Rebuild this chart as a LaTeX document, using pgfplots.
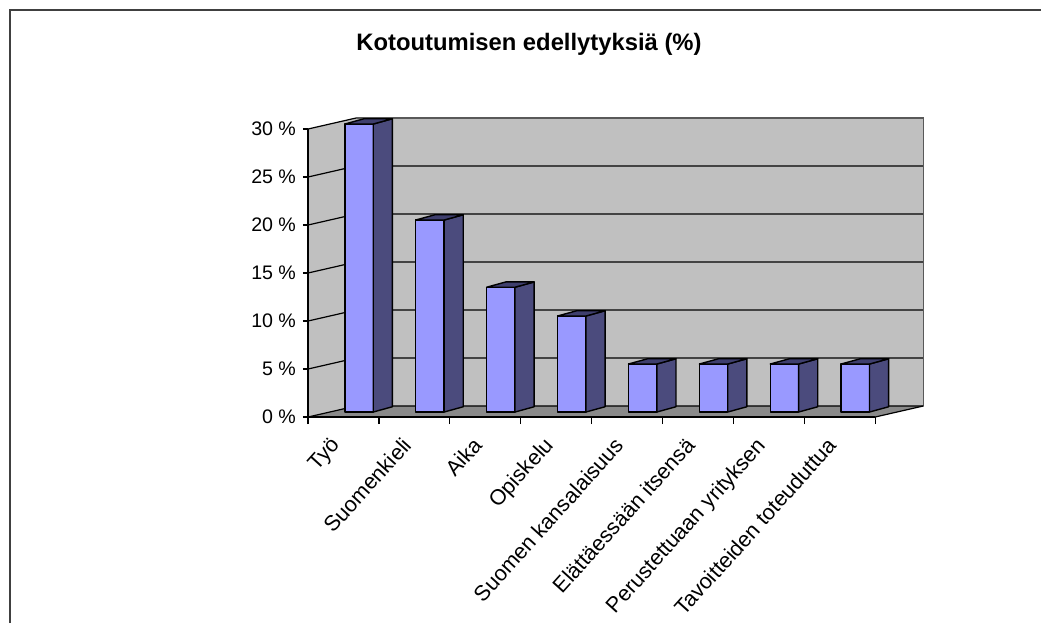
\documentclass[border=0pt]{standalone}
\usepackage{pgfplots}
\pgfplotsset{compat=1.18}
\usepackage{fontspec}
\setmainfont{Liberation Sans}
\definecolor{barfront}{HTML}{9999FF}
\definecolor{barside}{HTML}{4B4B7D}
\definecolor{bartop}{HTML}{3F3F6E}
\definecolor{wall}{HTML}{C0C0C0}
\definecolor{floorc}{HTML}{8A8A8A}
% 3D bar: #1 = category index (0-based), #2 = value in %
\newcommand\threedbar[2]{%
  \pgfmathsetmacro\xa{#1+0.52}%
  \pgfmathsetmacro\xb{#1+0.92}%
  \pgfmathsetmacro\xc{#1+1.19}%
  \pgfmathsetmacro\xd{#1+0.79}%
  \pgfmathsetmacro\ya{#2+0.52}%
  \pgfmathsetmacro\yb{#2+1.07}%
  \edef\doit{%
    \noexpand\addplot[draw=black, line width=0.7pt, fill=barfront, line join=round] coordinates {(\xa,0.52) (\xb,0.52) (\xb,\ya) (\xa,\ya)} -- cycle;
    \noexpand\addplot[draw=black, line width=0.7pt, fill=barside, line join=round] coordinates {(\xb,0.52) (\xc,1.07) (\xc,\yb) (\xb,\ya)} -- cycle;
    \noexpand\addplot[draw=black, line width=0.7pt, fill=bartop, line join=round] coordinates {(\xa,\ya) (\xb,\ya) (\xc,\yb) (\xd,\yb)} -- cycle;
  }\doit
}
\begin{document}
\begin{tikzpicture}
\useasboundingbox (0,0) rectangle (520.5pt,-311.5pt);
\draw[line width=1.3pt, black!75] (5pt,-311.5pt) -- (5pt,-5pt) -- (520.5pt,-5pt);
\node[font=\bfseries\fontsize{11.9}{13}\selectfont, anchor=base] at (264.5pt,-25pt) {Kotoutumisen edellytyksiä (\%)};
\begin{axis}[
  at={(154pt,-208.5pt)}, anchor=origin,
  x=35.45pt, y=4.8pt,
  xmin=0, xmax=8, ymin=0, ymax=30,
  clip=false, axis on top,
  axis x line*=bottom, axis y line*=left,
  axis line style={black, line width=0.7pt},
  ytick={0,5,...,30},
  yticklabels={0 \%,5 \%,10 \%,15 \%,20 \%,25 \%,30 \%},
  xtick={0.5,1.5,...,7.5},
  xticklabels={Työ,Suomenkieli,Aika,Opiskelu,Suomen kansalaisuus,Elättäessään itsensä,Perustettuaan yrityksen,Tavoitteiden toteuduttua},
  minor xtick={0,...,8},
  tick align=outside,
  major tick length=2.5pt, minor tick length=3.5pt,
  major x tick style={draw=none},
  tick style={black, line width=0.6pt},
  yticklabel style={font=\fontsize{9.8}{11}\selectfont},
  xticklabel style={font=\fontsize{10.8}{12}\selectfont, xshift=-7pt, yshift=-2pt, rotate=48, anchor=north east},
]
% walls and floor
\addplot[fill=wall, draw=none] coordinates {(0,0) (0,30) (0.68,31.15) (0.68,1.15)} -- cycle;
\addplot[fill=wall, draw=none] coordinates {(0.68,1.15) (8.68,1.15) (8.68,31.15) (0.68,31.15)} -- cycle;
\addplot[fill=floorc, draw=none] coordinates {(0,0) (8,0) (8.68,1.15) (0.68,1.15)} -- cycle;
% gridlines
\addplot[black, line width=0.6pt] coordinates {(0,0) (0.68,1.15) (8.68,1.15)};
\addplot[black, line width=0.6pt] coordinates {(0,5) (0.68,6.15) (8.68,6.15)};
\addplot[black, line width=0.6pt] coordinates {(0,10) (0.68,11.15) (8.68,11.15)};
\addplot[black, line width=0.6pt] coordinates {(0,15) (0.68,16.15) (8.68,16.15)};
\addplot[black, line width=0.6pt] coordinates {(0,20) (0.68,21.15) (8.68,21.15)};
\addplot[black, line width=0.6pt] coordinates {(0,25) (0.68,26.15) (8.68,26.15)};
\addplot[black, line width=0.6pt] coordinates {(0,30) (0.68,31.15)};
\addplot[black!65, line width=0.8pt] coordinates {(0.68,31.15) (8.68,31.15) (8.68,1.15)};
\addplot[black, line width=0.6pt] coordinates {(8,0) (8.68,1.15)};
% bars
\threedbar{0}{30}
\threedbar{1}{20}
\threedbar{2}{13}
\threedbar{3}{10}
\threedbar{4}{5}
\threedbar{5}{5}
\threedbar{6}{5}
\threedbar{7}{5}
\end{axis}
\end{tikzpicture}
\end{document}
